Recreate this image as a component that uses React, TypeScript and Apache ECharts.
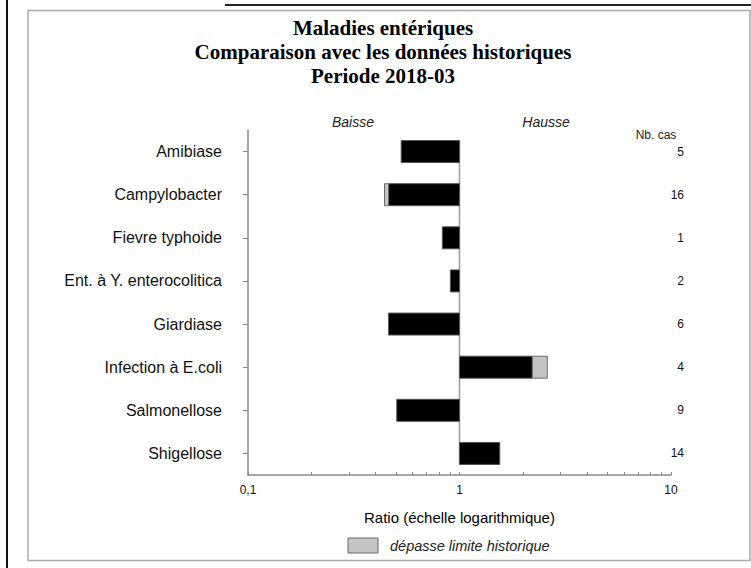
import React, { useEffect, useRef } from "react";
import * as echarts from "echarts";

const categories = [
  "Amibiase",
  "Campylobacter",
  "Fievre typhoide",
  "Ent. à Y. enterocolitica",
  "Giardiase",
  "Infection à E.coli",
  "Salmonellose",
  "Shigellose",
];
// ratio (black bar end), relative to 1
const ratios = [0.53, 0.462, 0.83, 0.905, 0.462, 2.21, 0.505, 1.55];
// grey part end: exceeds the historical limit (null = none)
const exceedEnds: (number | null)[] = [null, 0.442, null, null, null, 2.6, null, null];
const cases = [5, 16, 1, 2, 6, 4, 9, 14];
const tickValues = [0.1, 0.2, 0.3, 0.4, 0.5, 0.6, 0.7, 0.8, 0.9, 1, 2, 3, 4, 5, 6, 7, 8, 9, 10];
const labelValues = [0.1, 1, 10];

const SANS = "'Liberation Sans', Arial, sans-serif";
const SERIF = "'Liberation Serif', 'Times New Roman', serif";

export default function App() {
  const ref = useRef<HTMLDivElement>(null);
  useEffect(() => {
    if (!ref.current) return;
    const chart = echarts.init(ref.current, null, { renderer: "svg" });
    const last = categories.length - 1;
    const data = categories.map((c, i) => [i, ratios[i], exceedEnds[i] ?? ratios[i]]);
    chart.setOption({
      animation: false,
      backgroundColor: "#fff",
      grid: { left: 248, right: 80, top: 130, bottom: 93 },
      xAxis: {
        type: "log",
        logBase: 10,
        min: 0.1,
        max: 10,
        axisLine: { show: true, lineStyle: { color: "#8a8a8a", width: 1.5 } },
        axisTick: { show: true, inside: true, length: 3, customValues: tickValues, lineStyle: { color: "#8a8a8a" } },
        axisLabel: {
          customValues: labelValues,
          formatter: (v: number) => String(v).replace(".", ","),
          fontFamily: SANS,
          fontSize: 12,
          color: "#111",
          margin: 9,
        },
        splitLine: { show: false },
        minorTick: { show: false },
        name: "Ratio (échelle logarithmique)",
        nameLocation: "middle",
        nameGap: 35,
        nameTextStyle: { fontFamily: SANS, fontSize: 15, color: "#000" },
      },
      yAxis: [
        {
          type: "category",
          inverse: true,
          data: categories,
          axisLine: { show: true, lineStyle: { color: "#8a8a8a", width: 1.5 } },
          axisTick: { show: true, alignWithLabel: true, length: 5, lineStyle: { color: "#8a8a8a" } },
          axisLabel: { fontFamily: SANS, fontSize: 16, color: "#111", margin: 26 },
          splitLine: { show: false },
        },
        {
          type: "category",
          inverse: true,
          position: "right",
          data: cases.map(String),
          axisLine: { show: false },
          axisTick: { show: false },
          axisLabel: { fontFamily: SANS, fontSize: 12, color: "#111", align: "right", margin: 13 },
          splitLine: { show: false },
        },
      ],
      series: [
        {
          type: "custom",
          encode: { x: [1, 2], y: 0 },
          data,
          renderItem: (params: any, api: any) => {
            const idx = api.value(0);
            const v = api.value(1);
            const ex = api.value(2);
            const p1 = api.coord([1, idx]);
            const p2 = api.coord([v, idx]);
            const p3 = api.coord([ex, idx]);
            const band = Math.abs(api.coord([1, 1])[1] - api.coord([1, 0])[1]);
            const h = band * 0.51;
            const cy = p1[1];
            const children: any[] = [];
            const yTop = idx === 0 ? cy - h / 2 : cy - band / 2;
            const yBot = idx === last ? cy + h / 2 : cy + band / 2;
            children.push({
              type: "line",
              shape: { x1: p1[0], y1: yTop, x2: p1[0], y2: yBot },
              style: { stroke: "#9a9a9a", lineWidth: 1.5 },
            });
            children.push({
              type: "rect",
              shape: { x: Math.min(p1[0], p2[0]), y: cy - h / 2, width: Math.abs(p2[0] - p1[0]), height: h },
              style: { fill: "#000", stroke: "#555", lineWidth: 1 },
            });
            if (ex !== v) {
              children.push({
                type: "rect",
                shape: { x: Math.min(p2[0], p3[0]), y: cy - h / 2, width: Math.abs(p3[0] - p2[0]), height: h },
                style: { fill: "#c4c4c4", stroke: "#6a6a6a", lineWidth: 1 },
              });
            }
            return { type: "group", children };
          },
        },
      ],
      graphic: [
        { type: "line", shape: { x1: 7, y1: 0, x2: 7, y2: 568 }, style: { stroke: "#111", lineWidth: 2 } },
        { type: "line", shape: { x1: 225, y1: 5, x2: 751, y2: 5 }, style: { stroke: "#222", lineWidth: 2 } },
        {
          type: "rect",
          shape: { x: 28, y: 10.5, width: 722, height: 550 },
          style: { fill: "none", stroke: "#aaa", lineWidth: 1.5 },
          z: -1,
        },
        {
          type: "text",
          x: 383,
          y: 28,
          style: { text: "Maladies entériques", font: `bold 21px ${SERIF}`, fill: "#000", align: "center", verticalAlign: "middle" },
        },
        {
          type: "text",
          x: 383,
          y: 52,
          style: { text: "Comparaison avec les données historiques", font: `bold 21px ${SERIF}`, fill: "#000", align: "center", verticalAlign: "middle" },
        },
        {
          type: "text",
          x: 383,
          y: 76,
          style: { text: "Periode 2018-03", font: `bold 21px ${SERIF}`, fill: "#000", align: "center", verticalAlign: "middle" },
        },
        {
          type: "text",
          x: 353,
          y: 122,
          style: { text: "Baisse", font: `italic 14px ${SANS}`, fill: "#222", align: "center", verticalAlign: "middle" },
        },
        {
          type: "text",
          x: 546,
          y: 122,
          style: { text: "Hausse", font: `italic 14px ${SANS}`, fill: "#222", align: "center", verticalAlign: "middle" },
        },
        {
          type: "text",
          x: 656,
          y: 135,
          style: { text: "Nb. cas", font: `12px ${SANS}`, fill: "#222", align: "center", verticalAlign: "middle" },
        },
        {
          type: "rect",
          shape: { x: 348, y: 538, width: 30, height: 15 },
          style: { fill: "#c4c4c4", stroke: "#6a6a6a", lineWidth: 1 },
        },
        {
          type: "text",
          x: 390,
          y: 545.5,
          style: { text: "dépasse limite historique", font: `italic 14.5px ${SANS}`, fill: "#222", align: "left", verticalAlign: "middle" },
        },
      ],
    });
    return () => chart.dispose();
  }, []);
  return (
    <div
      ref={ref}
      style={{ position: "fixed", left: 0, top: 0, width: 751, height: 568, background: "#fff" }}
    />
  );
}
